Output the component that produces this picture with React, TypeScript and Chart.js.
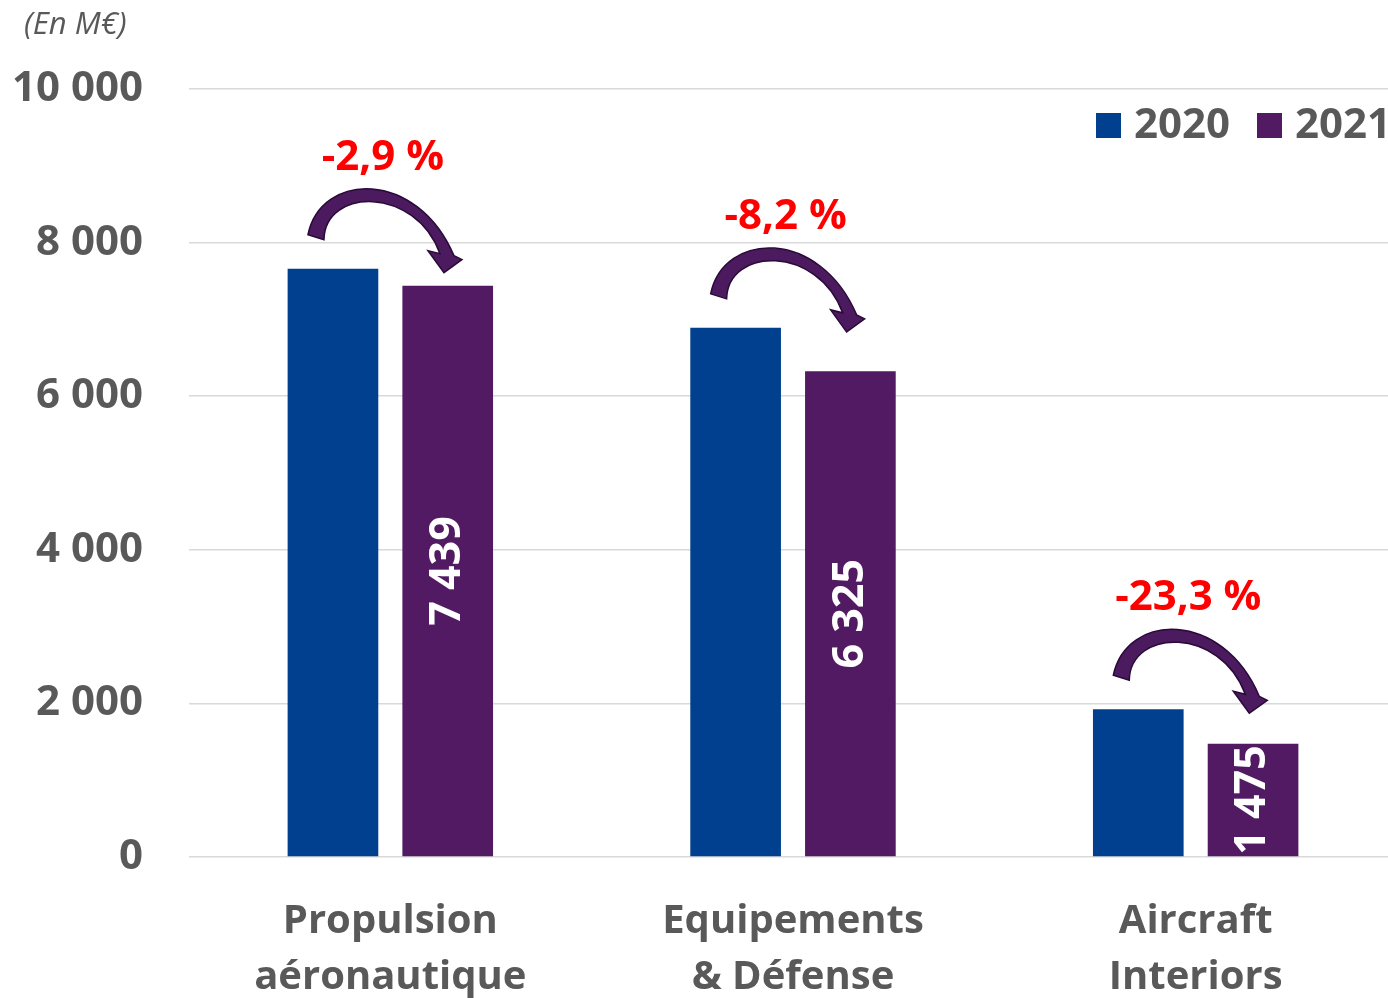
import React, { useEffect, useRef } from "react";
import { Chart, registerables } from "chart.js";

Chart.register(...registerables);

const categories: string[][] = [
  ["Propulsion", "aéronautique"],
  ["Equipements", "& Défense"],
  ["Aircraft", "Interiors"],
];
const seriesNames = ["2020", "2021"];
const values2020 = [7661, 6890, 1923];
const values2021 = [7439, 6325, 1475];
const changeLabels = ["-2,9 %", "-8,2 %", "-23,3 %"];
const unitLabel = "(En M€)";

const BLUE = "#00408E";
const PURPLE = "#511A62";
const GREY = "#595959";
const FONT = "'Open Sans', 'DejaVu Sans', sans-serif";

const fmt = (v: number) =>
  String(Math.round(v)).replace(/\B(?=(\d{3})+(?!\d))/g, " ");

const overlayPlugin = {
  id: "overlay",
  afterDatasetsDraw(chart: any) {
    const ctx = chart.ctx as CanvasRenderingContext2D;
    const m0 = chart.getDatasetMeta(0);
    const m1 = chart.getDatasetMeta(1);
    ctx.save();

    // data labels in 2021 bars (rotated)
    m1.data.forEach((bar: any, i: number) => {
      const cy = (bar.y + bar.base) / 2;
      ctx.save();
      ctx.translate(bar.x, cy);
      ctx.rotate(-Math.PI / 2);
      ctx.fillStyle = "#ffffff";
      ctx.font = `bold 43px ${FONT}`;
      ctx.textAlign = "center";
      ctx.textBaseline = "middle";
      ctx.fillText(fmt(values2021[i]), 0, 0);
      ctx.restore();
    });

    // arrows + change labels
    m0.data.forEach((bar: any, i: number) => {
      const ox = bar.x;
      const oy = bar.y;
      const P = (x: number, y: number): [number, number] => [ox + x, oy + y];
      ctx.beginPath();
      ctx.moveTo(...P(-25, -34));
      ctx.bezierCurveTo(...P(-12, -97), ...P(84, -100), ...P(121, -13));
      ctx.lineTo(...P(129, -9));
      ctx.lineTo(...P(111, 4));
      ctx.lineTo(...P(95, -18));
      ctx.lineTo(...P(107, -15));
      ctx.bezierCurveTo(...P(82, -83), ...P(-8, -81), ...P(-9, -29));
      ctx.closePath();
      ctx.fillStyle = "#4B1A5F";
      ctx.fill();
      ctx.strokeStyle = "#2A0A38";
      ctx.lineWidth = 1.5;
      ctx.stroke();

      ctx.fillStyle = "#FF0000";
      ctx.font = `bold 42px ${FONT}`;
      ctx.textAlign = "center";
      ctx.textBaseline = "middle";
      ctx.fillText(changeLabels[i], ox + 50, oy - 111);
    });

    // legend
    const legendItems = [
      { x: 1096, color: BLUE, text: seriesNames[0] },
      { x: 1257, color: PURPLE, text: seriesNames[1] },
    ];
    legendItems.forEach((it) => {
      ctx.fillStyle = it.color;
      ctx.fillRect(it.x, 113, 25, 25);
      ctx.fillStyle = GREY;
      ctx.font = `bold 42px ${FONT}`;
      ctx.textAlign = "left";
      ctx.textBaseline = "middle";
      ctx.fillText(it.text, it.x + 38, 126);
    });

    // unit label
    ctx.fillStyle = GREY;
    ctx.font = `italic 31px ${FONT}`;
    ctx.textAlign = "left";
    ctx.textBaseline = "middle";
    ctx.fillText(unitLabel, 24, 25);

    ctx.restore();
  },
};

export default function App() {
  const ref = useRef<HTMLCanvasElement | null>(null);
  useEffect(() => {
    document.body.style.margin = "0";
    const canvas = ref.current!;
    const chart = new Chart(canvas, {
      type: "bar",
      data: {
        labels: categories,
        datasets: [
          {
            label: seriesNames[0],
            data: values2020,
            backgroundColor: BLUE,
            categoryPercentage: 0.57,
            barPercentage: 0.79,
          },
          {
            label: seriesNames[1],
            data: values2021,
            backgroundColor: PURPLE,
            categoryPercentage: 0.57,
            barPercentage: 0.79,
          },
        ],
      },
      options: {
        responsive: false,
        animation: false,
        devicePixelRatio: 1,
        layout: { padding: { top: 89, left: 0, right: 0, bottom: 0 } },
        plugins: {
          legend: { display: false },
          tooltip: { enabled: false },
        },
        scales: {
          x: {
            grid: { display: false },
            border: { display: false },
            ticks: {
              color: GREY,
              font: { family: FONT, size: 40, weight: "bold", lineHeight: "56px" },
              padding: 29,
              maxRotation: 0,
              autoSkip: false,
            },
            afterFit: (s: any) => {
              s.height = 141;
            },
          },
          y: {
            min: 0,
            max: 10000,
            grid: { color: "#D9D9D9", lineWidth: 1.5, drawTicks: false },
            border: { display: false },
            ticks: {
              stepSize: 2000,
              color: GREY,
              padding: 46,
              font: { family: FONT, size: 42, weight: "bold" },
              callback: (v: any) => fmt(Number(v)),
            },
            afterFit: (s: any) => {
              s.width = 189;
            },
          },
        },
      },
      plugins: [overlayPlugin],
    });
    return () => chart.destroy();
  }, []);
  return (
    <div
      style={{
        position: "absolute",
        left: 0,
        top: 0,
        width: 1388,
        height: 998,
        overflow: "hidden",
      }}
    >
      <canvas ref={ref} width={1397} height={998} style={{ display: "block" }} />
    </div>
  );
}
